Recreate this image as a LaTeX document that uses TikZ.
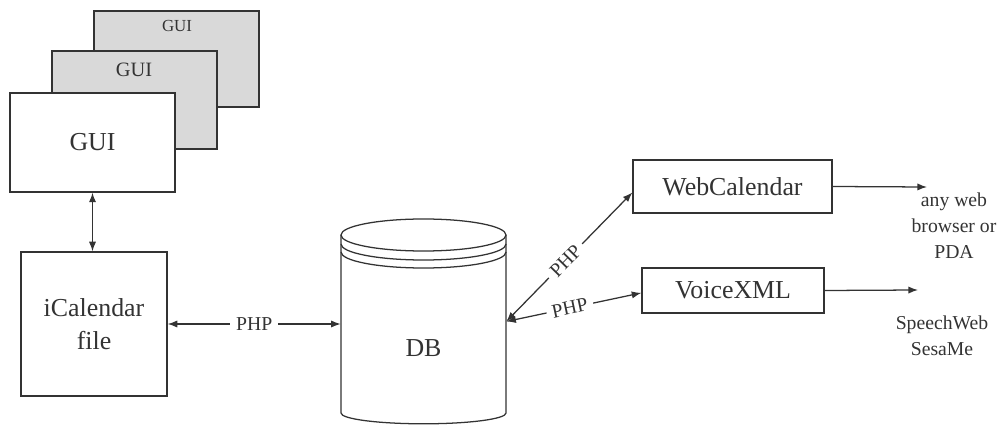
\documentclass[tikz,border=0pt]{standalone}
\usepackage{fontspec}
\setmainfont{Liberation Serif}
\usetikzlibrary{arrows.meta}
\definecolor{ink}{HTML}{333333}
\definecolor{shade}{HTML}{D9D9D9}
\tikzset{
  line/.style={draw=ink, line width=0.9pt},
  box/.style={line, inner sep=0pt},
  big/.style={text=ink, font=\fontsize{18.4}{23}\selectfont},
  mid/.style={text=ink, font=\fontsize{14.5}{18}\selectfont},
  small/.style={text=ink, font=\fontsize{12}{15}\selectfont},
  lab/.style={text=ink, font=\fontsize{14}{18.5}\selectfont, align=center},
  conn/.style={line, -{Latex[length=2.4mm,width=1.8mm]}},
  dconn/.style={line, {Latex[length=2.4mm,width=1.8mm]}-{Latex[length=2.4mm,width=1.8mm]}},
  tag/.style={text=ink, font=\fontsize{14}{16}\selectfont, fill=white, inner xsep=4pt, inner ysep=1pt}
}
\begin{document}
\begin{tikzpicture}[x=0.025cm,y=-0.025cm]
\useasboundingbox (0,0) rectangle (1007,426);
% GUI stack
\node[box, fill=shade, minimum width=4.125cm, minimum height=2.4cm] (gui3) at (176.5,59) {};
\node[small] (gui3t) at (177,26) {GUI};
\node[box, fill=shade, minimum width=4.125cm, minimum height=2.45cm] (gui2) at (134.5,100) {};
\node[mid] (gui2t) at (134,70) {GUI};
\node[box, fill=white, minimum width=4.125cm, minimum height=2.475cm, big] (gui1) at (92.5,142.5) {GUI};
% iCalendar
\node[box, minimum width=3.65cm, minimum height=3.6cm, big, align=center] (ical) at (94,324) {iCalendar\\file};
% DB cylinder
\node[minimum width=4.125cm, minimum height=5.075cm, inner sep=0pt] (db) at (423.5,321.5) {};
\draw[line] (423.5,235) ellipse [x radius=2.0625cm, y radius=0.4cm];
\draw[line] (341,244) arc[start angle=180, end angle=360, x radius=2.0625cm, y radius=0.4cm];
\draw[line] (341,252) arc[start angle=180, end angle=360, x radius=2.0625cm, y radius=0.4cm];
\draw[line] (341,235) -- (341,413) arc[start angle=180, end angle=360, x radius=2.0625cm, y radius=0.27cm] -- (506,235);
\node[big] (dbt) at (423.5,348) {DB};
% right boxes
\node[box, minimum width=4.975cm, minimum height=1.325cm, big] (web) at (732.5,186.5) {WebCalendar};
\node[box, minimum width=4.55cm, minimum height=1.125cm, big] (voice) at (733,290.5) {VoiceXML};
\coordinate (webout) at (927,187);
\coordinate (voiceout) at (918,290);
\node[lab] (webtxt) at (954,226) {any web\\browser or\\PDA};
\node[lab] (voicetxt) at (942,336) {SpeechWeb\\SesaMe};
% connectors
\draw[dconn] (gui1.south) -- (ical.north -| gui1.south);
\draw[dconn] (ical.east) -- node[tag]{PHP} (ical.east -| db.west);
\draw[dconn] (db.east) -- node[tag, sloped, pos=0.47]{PHP} ([yshift=-0.15cm]web.west);
\draw[dconn] (db.east) -- node[tag, sloped, pos=0.47]{PHP} ([yshift=-0.06cm]voice.west);
\draw[conn] (web.east) -- (webout);
\draw[conn] (voice.east) -- (voiceout);
\end{tikzpicture}
\end{document}
